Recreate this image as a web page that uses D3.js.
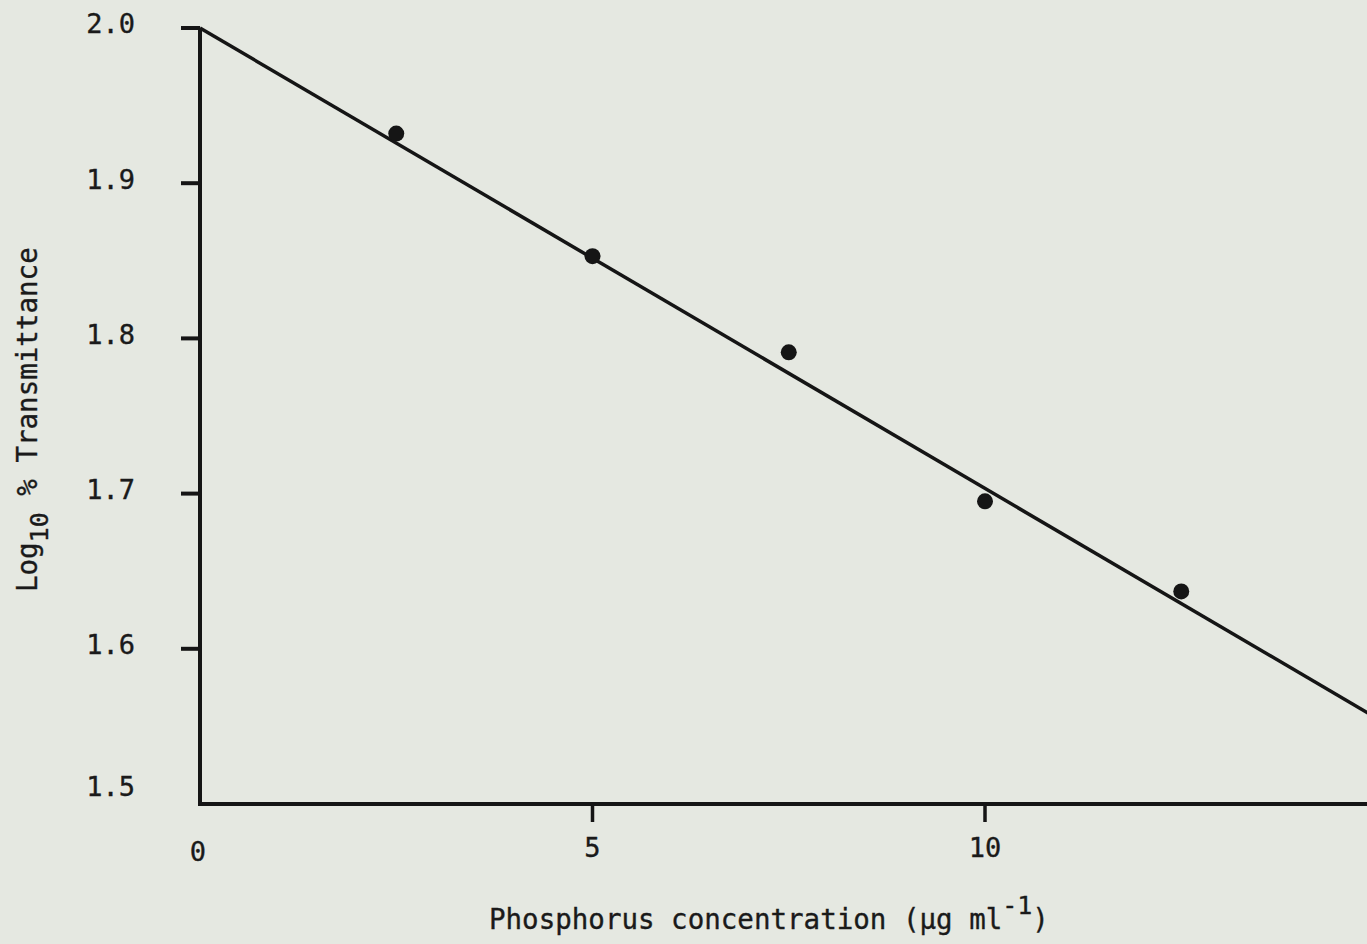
<!DOCTYPE html>
<html>
<head>
<meta charset="utf-8">
<script src="https://cdn.jsdelivr.net/npm/d3@7"></script>
<style>
  html, body { margin: 0; padding: 0; background: #e5e8e1; }
  svg { display: block; }
  text { font-family: "DejaVu Sans Mono", monospace; fill: #1a1a1a; stroke: #1a1a1a; stroke-width: 0.35; }
</style>
</head>
<body>
<svg id="chart" width="1367" height="944"></svg>
<script>
// Calibration: phosphorus concentration vs log10 % transmittance
const concentration = [2.5, 5, 7.5, 10, 12.5];
const logTransmittance = [1.932, 1.853, 1.791, 1.695, 1.637];
// Fitted calibration line, end points
const fitX = [0, 15];
const fitY = [2.0, 1.555];
const xTickValues = [0, 5, 10];
const xTickLabels = ["0", "5", "10"];
const yTickValues = [2.0, 1.9, 1.8, 1.7, 1.6, 1.5];
const yTickLabels = ["2.0", "1.9", "1.8", "1.7", "1.6", "1.5"];

const ink = "#151515";
const svg = d3.select("#chart");

const x = d3.scaleLinear().domain([0, 15]).range([200, 1377.5]);
const y = d3.scaleLinear().domain([1.5, 2.0]).range([804, 28]);

// Y axis: line with ticks pointing left
const yAxis = svg.append("g");
yAxis.append("line")
  .attr("x1", x(0)).attr("x2", x(0))
  .attr("y1", y(2.0)).attr("y2", y(1.5) + 2)
  .attr("stroke", ink).attr("stroke-width", 4);
yAxis.selectAll("line.tick")
  .data(yTickValues.filter(v => v > 1.5))
  .join("line").attr("class", "tick")
  .attr("x1", x(0) - 19).attr("x2", x(0))
  .attr("y1", d => y(d)).attr("y2", d => y(d))
  .attr("stroke", ink).attr("stroke-width", 4);
yAxis.selectAll("text")
  .data(yTickValues)
  .join("text")
  .attr("x", 135)
  .attr("y", d => y(d) + (d === 1.5 ? -17 : -4))
  .attr("dy", "0.35em")
  .attr("text-anchor", "end")
  .attr("font-size", 27)
  .text((d, i) => yTickLabels[i]);

// X axis: line with ticks pointing down
const xAxis = svg.append("g");
xAxis.append("line")
  .attr("x1", x(0) - 2).attr("x2", 1367)
  .attr("y1", y(1.5)).attr("y2", y(1.5))
  .attr("stroke", ink).attr("stroke-width", 4);
xAxis.selectAll("line.tick")
  .data(xTickValues.filter(v => v > 0))
  .join("line").attr("class", "tick")
  .attr("x1", d => x(d)).attr("x2", d => x(d))
  .attr("y1", y(1.5)).attr("y2", y(1.5) + 18)
  .attr("stroke", ink).attr("stroke-width", 3.5);
xAxis.selectAll("text")
  .data(xTickValues)
  .join("text")
  .attr("x", d => x(d) - (d === 0 ? 2 : 0))
  .attr("y", d => y(1.5) + (d === 0 ? 48 : 44))
  .attr("dy", "0.35em")
  .attr("text-anchor", "middle")
  .attr("font-size", 27)
  .text((d, i) => xTickLabels[i]);

// Fitted line
svg.append("path")
  .datum(fitX.map((v, i) => [v, fitY[i]]))
  .attr("d", d3.line().x(d => x(d[0])).y(d => y(d[1])))
  .attr("fill", "none")
  .attr("stroke", ink)
  .attr("stroke-width", 3.5);

// Measured points
svg.selectAll("circle.pt")
  .data(concentration.map((c, i) => [c, logTransmittance[i]]))
  .join("circle").attr("class", "pt")
  .attr("cx", d => x(d[0]))
  .attr("cy", d => y(d[1]))
  .attr("r", 8)
  .attr("fill", ink);

// X axis title with superscript
const xt = svg.append("text")
  .attr("x", 489).attr("y", 929)
  .attr("font-size", 27.5);
xt.append("tspan").text("Phosphorus concentration (μg ml");
xt.append("tspan").attr("dy", -15).attr("font-size", 25).text("-1");
xt.append("tspan").attr("dy", 15).text(")");

// Y axis title with subscript, rotated
const yt = svg.append("text")
  .attr("transform", "translate(37,592) rotate(-90)")
  .attr("font-size", 27.5);
yt.append("tspan").text("Log");
yt.append("tspan").attr("dy", 11).attr("font-size", 25).text("10");
yt.append("tspan").attr("dy", -11).text(" % Transmittance");
</script>
</body>
</html>
